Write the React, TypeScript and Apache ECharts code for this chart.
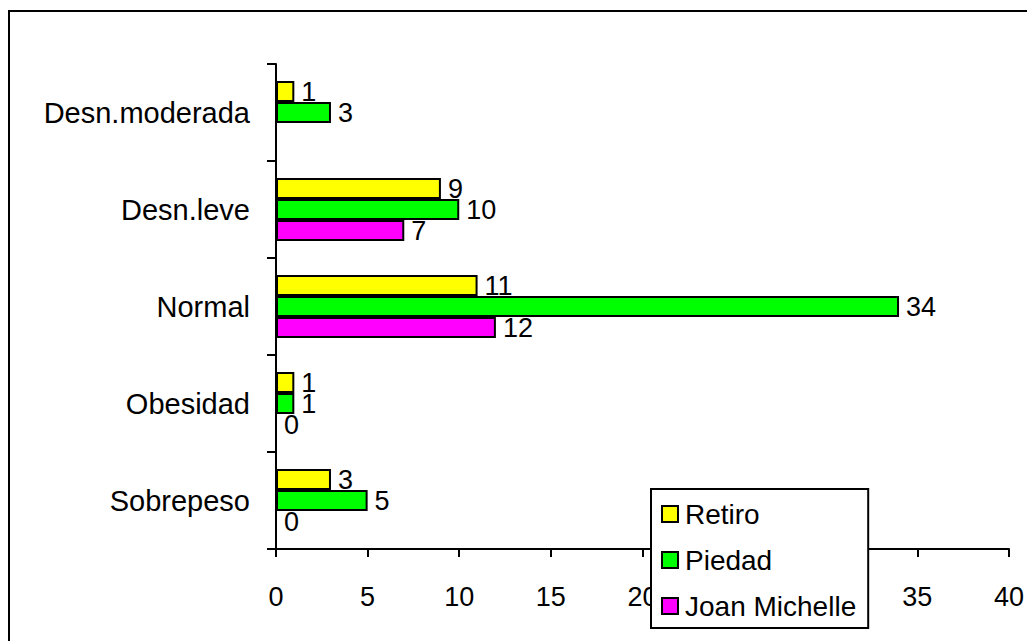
import React, { useEffect, useRef } from "react";
import * as echarts from "echarts";

const categories = ["Sobrepeso", "Obesidad", "Normal", "Desn.leve", "Desn.moderada"];
const retiro = [3, 1, 11, 9, 1];
const piedad = [5, 1, 34, 10, 3];
const joanMichelle: (number | null)[] = [0, 0, 12, 7, null];
const xTicks = { min: 0, max: 40, interval: 5 };

const FONT = "'Liberation Sans', Arial, sans-serif";

export default function App() {
  const ref = useRef<HTMLDivElement>(null);
  useEffect(() => {
    if (!ref.current) return;
    const chart = echarts.init(ref.current, undefined, { renderer: "svg" });
    const labelCfg = {
      show: true,
      position: "right" as const,
      distance: 7,
      color: "#000",
      fontSize: 27,
      fontFamily: FONT,
    };
    const mk = (name: string, data: (number | null)[], color: string) => ({
      name,
      type: "bar" as const,
      data,
      barWidth: 21,
      barGap: "0%",
      itemStyle: { color, borderColor: "#000", borderWidth: 2 },
      label: labelCfg,
      emphasis: { disabled: true },
    });
    chart.setOption({
      animation: false,
      backgroundColor: "#fff",
      textStyle: { fontFamily: FONT },
      graphic: [
        {
          type: "rect",
          shape: { x: 9, y: 11, width: 1100, height: 700 },
          style: { fill: "none", stroke: "#000", lineWidth: 2 },
          silent: true,
          z: 100,
        },
      ],
      grid: { left: 276, right: 12, top: 64, bottom: 92, containLabel: false },
      legend: {
        orient: "vertical",
        left: 651,
        top: 489,
        data: ["Retiro", "Piedad", "Joan Michelle"],
        backgroundColor: "#fff",
        borderColor: "#000",
        borderWidth: 2,
        borderRadius: 0,
        padding: [11, 12, 8, 10],
        itemWidth: 16,
        itemHeight: 16,
        itemGap: 18,
        icon: "rect",
        itemStyle: { borderColor: "#000", borderWidth: 2 },
        textStyle: { fontSize: 28, color: "#000", fontFamily: FONT, padding: [0, 0, 0, 2] },
        z: 10,
      },
      xAxis: {
        type: "value",
        min: xTicks.min,
        max: xTicks.max,
        interval: xTicks.interval,
        axisLine: { show: true, lineStyle: { color: "#000", width: 2 } },
        axisTick: { show: true, length: 8, lineStyle: { color: "#000", width: 2 } },
        splitLine: { show: false },
        axisLabel: { fontSize: 27, color: "#000", margin: 34, fontFamily: FONT },
      },
      yAxis: {
        type: "category",
        data: categories,
        axisLine: { show: true, lineStyle: { color: "#000", width: 2 } },
        axisTick: { show: true, length: 9, lineStyle: { color: "#000", width: 2 } },
        axisLabel: { fontSize: 29, color: "#000", margin: 26, fontFamily: FONT },
      },
      series: [
        mk("Retiro", retiro, "#ffff00"),
        mk("Piedad", piedad, "#00ff00"),
        mk("Joan Michelle", joanMichelle, "#ff00ff"),
      ],
    });
    return () => chart.dispose();
  }, []);
  return (
    <div
      ref={ref}
      style={{ position: "fixed", left: 0, top: 0, width: 1027, height: 641, background: "#fff" }}
    />
  );
}
